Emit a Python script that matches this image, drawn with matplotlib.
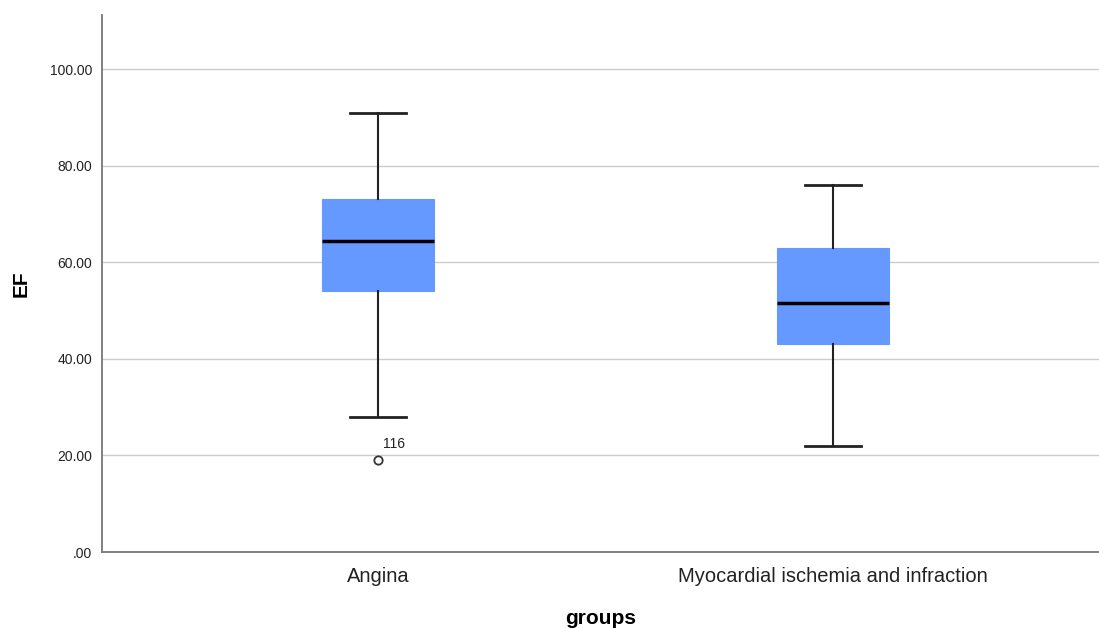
import matplotlib
matplotlib.use("Agg")
import matplotlib.pyplot as plt

plt.rcParams["font.family"] = ["Liberation Sans", "DejaVu Sans"]

groups = ["Angina", "Myocardial ischemia and infraction"]
whisker_low = [28, 22]
q1 = [54, 43]
medians = [64.5, 51.5]
q3 = [73, 63]
whisker_high = [91, 76]
outliers = [[19], []]
outlier_labels = [["116"], []]
yticks = [0, 20, 40, 60, 80, 100]
ytick_labels = [".00", "20.00", "40.00", "60.00", "80.00", "100.00"]

fig = plt.figure(figsize=(10.99, 6.28), dpi=100)
ax = fig.add_axes([102/1099, 76/628, 1 - 102/1099, (552-15)/628])

stats = []
for i, g in enumerate(groups):
    stats.append(dict(label=g, whislo=whisker_low[i], q1=q1[i], med=medians[i],
                      q3=q3[i], whishi=whisker_high[i], fliers=outliers[i]))

positions = [1, 2]
ax.bxp(stats, positions=positions, widths=0.248, patch_artist=True,
       boxprops=dict(facecolor="#6699FF", edgecolor="#6699FF", linewidth=0.8),
       medianprops=dict(color="black", linewidth=2.5),
       whiskerprops=dict(color="#222222", linewidth=1.5),
       capprops=dict(color="#222222", linewidth=2),
       capwidths=0.124,
       flierprops=dict(marker="o", markerfacecolor="white", markeredgecolor="#333333",
                       markersize=6, markeredgewidth=1.3),
       zorder=3)

for i, (vals, labs) in enumerate(zip(outliers, outlier_labels)):
    for v, lab in zip(vals, labs):
        ax.annotate(lab, xy=(positions[i], v), xytext=(3.5, 6.5), textcoords="offset points",
                    fontsize=10, color="#222222", ha="left", va="bottom")

ax.set_xlim(0.393, 2.585)
ax.set_ylim(0, 111.2)
ax.set_yticks(yticks)
ax.set_yticklabels(ytick_labels, fontsize=10, color="#222222")
ax.set_xticks(positions)
ax.set_xticklabels(groups, fontsize=14.5, color="#222222")
ax.tick_params(axis="both", length=0)
ax.tick_params(axis="x", pad=10.5)
ax.tick_params(axis="y", pad=7)
ax.yaxis.grid(True, color="#cccccc", linewidth=1)
ax.set_axisbelow(True)
for s in ["top", "right"]:
    ax.spines[s].set_visible(False)
for s in ["left", "bottom"]:
    ax.spines[s].set_color("#777777")
    ax.spines[s].set_linewidth(1.3)

ax.set_xlabel("groups", fontsize=15, fontweight="bold", labelpad=16.5)
ax.set_ylabel("EF", fontsize=15, fontweight="bold", labelpad=14)

fig.savefig("out.png", dpi=100)
